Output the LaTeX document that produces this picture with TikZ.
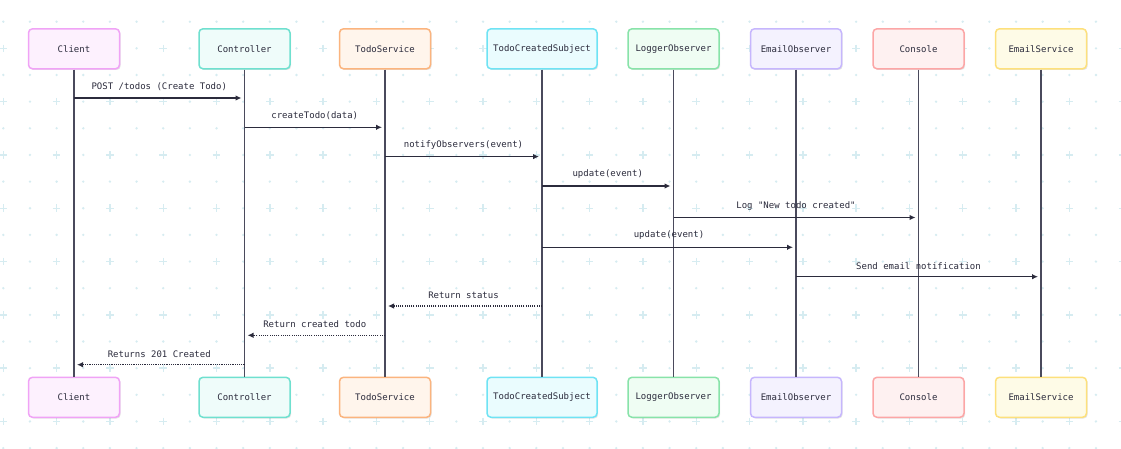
\documentclass[tikz,border=0pt]{standalone}
\usepackage{fontspec}
\setmonofont{DejaVu Sans Mono}
\usetikzlibrary{arrows.meta,shadows}

% participant palettes: outline and fill
\definecolor{clientline}{HTML}{F0A3F6}\definecolor{clientfill}{HTML}{FDF1FE}
\definecolor{ctrlline}{HTML}{6FE0CF}\definecolor{ctrlfill}{HTML}{EFFCFA}
\definecolor{svcline}{HTML}{FBB47E}\definecolor{svcfill}{HTML}{FFF5EC}
\definecolor{subjline}{HTML}{6FE3F4}\definecolor{subjfill}{HTML}{EAFCFE}
\definecolor{logline}{HTML}{88E3A9}\definecolor{logfill}{HTML}{EFFDF3}
\definecolor{emobsline}{HTML}{C6B6FD}\definecolor{emobsfill}{HTML}{F4F2FE}
\definecolor{consline}{HTML}{FCA6A6}\definecolor{consfill}{HTML}{FEF1F1}
\definecolor{emsvcline}{HTML}{FDE07C}\definecolor{emsvcfill}{HTML}{FEFBE7}
\definecolor{inkdark}{HTML}{2B2B3C}
\definecolor{lifegray}{HTML}{4A4A5C}
\definecolor{gridcol}{HTML}{D6ECF1}

\tikzset{
  actor/.style={draw=#1line, fill=#1fill, line width=1.5pt, rounded corners=4pt,
    minimum height=40pt, minimum width=91pt, inner sep=0pt,
    font=\ttfamily\fontsize{9}{11}\selectfont, text=inkdark,
    drop shadow={shadow xshift=1.2pt, shadow yshift=-1.2pt, opacity=0.10, fill=black}},
  lifeline/.style={draw=lifegray, line width=1.3pt},
  msg/.style={draw=inkdark, line width=1.1pt, shorten >=3pt,
    -{Latex[length=6pt,width=5.5pt]}},
  reply/.style={msg, dash pattern=on 1.1pt off 1.1pt},
  msglabel/.style={font=\ttfamily\fontsize{9}{11}\selectfont, text=inkdark, inner sep=0pt},
  gdot/.style={fill=gridcol},
  gplus/.style={draw=gridcol, line width=1.4pt}
}

\begin{document}
\begin{tikzpicture}[x=1pt,y=-1pt]
\useasboundingbox (0,0) rectangle (1121,449);
\fill[white] (0,0) rectangle (1121,449);

% dotted background grid with crosses on alternate points
\foreach \i in {0,...,42}{
  \foreach \j in {0,...,16}{
    \pgfmathsetmacro{\gx}{3.3+26.65*\i}
    \pgfmathsetmacro{\gy}{21.7+26.65*\j}
    \pgfmathtruncatemacro{\isplus}{and(isodd(\j),iseven(\i))}
    \ifnum\isplus=1
      \draw[gplus] (\gx-3.8,\gy) -- (\gx+3.8,\gy) (\gx,\gy-3.8) -- (\gx,\gy+3.8);
    \else
      \fill[gdot] (\gx,\gy) circle (1.3);
    \fi
  }
}

% participants, top row
\node[actor=client] (clientT) at (74,48.8) {Client};
\node[actor=ctrl]   (ctrlT)   at (244.5,48.8) {Controller};
\node[actor=svc]    (svcT)    at (385,48.8) {TodoService};
\node[actor=subj, minimum width=110pt] (subjT) at (542,48.8) {TodoCreatedSubject};
\node[actor=log]    (logT)    at (673.5,48.8) {LoggerObserver};
\node[actor=emobs]  (emobsT)  at (796,48.8) {EmailObserver};
\node[actor=cons]   (consT)   at (918.5,48.8) {Console};
\node[actor=emsvc]  (emsvcT)  at (1041,48.8) {EmailService};

% participants, bottom row
\node[actor=client] (clientB) at (74,397.3) {Client};
\node[actor=ctrl]   (ctrlB)   at (244.5,397.3) {Controller};
\node[actor=svc]    (svcB)    at (385,397.3) {TodoService};
\node[actor=subj, minimum width=110pt] (subjB) at (542,397.3) {TodoCreatedSubject};
\node[actor=log]    (logB)    at (673.5,397.3) {LoggerObserver};
\node[actor=emobs]  (emobsB)  at (796,397.3) {EmailObserver};
\node[actor=cons]   (consB)   at (918.5,397.3) {Console};
\node[actor=emsvc]  (emsvcB)  at (1041,397.3) {EmailService};

% lifelines
\foreach \p in {client,ctrl,svc,subj,log,emobs,cons,emsvc}{
  \draw[lifeline] (\p T.south) -- (\p B.north);
}

% messages
\draw[msg] (clientT.south |- 0,98) -- node[msglabel, above=7pt] {POST /todos (Create Todo)} (ctrlT.south |- 0,98);
\draw[msg] (ctrlT.south |- 0,127.3) -- node[msglabel, above=7pt] {createTodo(data)} (svcT.south |- 0,127.3);
\draw[msg] (svcT.south |- 0,156.6) -- node[msglabel, above=7pt] {notifyObservers(event)} (subjT.south |- 0,156.6);
\draw[msg] (subjT.south |- 0,186) -- node[msglabel, above=7pt] {update(event)} (logT.south |- 0,186);
\draw[msg] (logT.south |- 0,217.5) -- node[msglabel, above=7pt] {Log "New todo created"} (consT.south |- 0,217.5);
\draw[msg] (subjT.south |- 0,247.3) -- node[msglabel, above=7pt] {update(event)} (emobsT.south |- 0,247.3);
\draw[msg] (emobsT.south |- 0,276.7) -- node[msglabel, above=7pt] {Send email notification} (emsvcT.south |- 0,276.7);

% replies
\draw[reply] (subjT.south |- 0,306) -- node[msglabel, above=7pt] {Return status} (svcT.south |- 0,306);
\draw[reply] (svcT.south |- 0,335.3) -- node[msglabel, above=7pt] {Return created todo} (ctrlT.south |- 0,335.3);
\draw[reply] (ctrlT.south |- 0,364.7) -- node[msglabel, above=7pt] {Returns 201 Created} (clientT.south |- 0,364.7);
\end{tikzpicture}
\end{document}
